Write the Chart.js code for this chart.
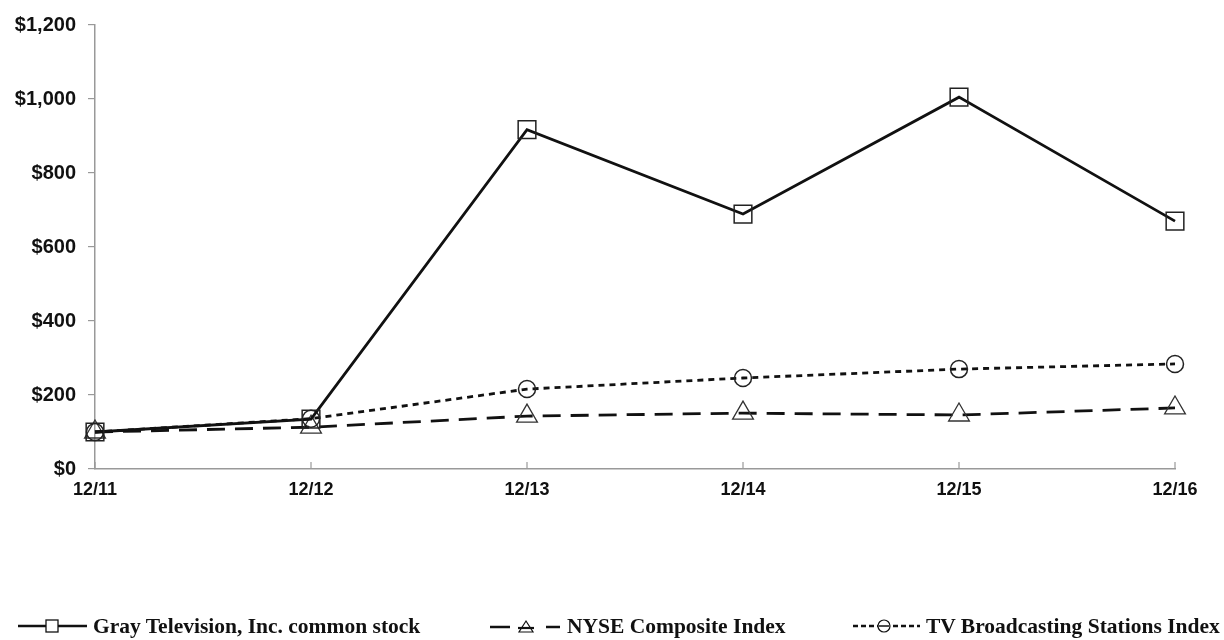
<!DOCTYPE html>
<html>
<head>
<meta charset="utf-8">
<script src="https://cdn.jsdelivr.net/npm/chart.js@4/dist/chart.umd.min.js"></script>
<style>
  body { margin: 0; background: #fff; }
  #wrap { position: relative; width: 1224px; height: 640px; overflow: hidden; }
  #legend { position: absolute; left: 0; top: 613px; width: 1224px; height: 26px;
            font-family: "Liberation Serif", "DejaVu Serif", serif; font-weight: bold; font-size: 21.5px; color: #111; }
  .item { position: absolute; top: 0; display: flex; align-items: center; height: 26px; white-space: nowrap; line-height: 26px; }
  .item svg { margin-right: 6px; }
</style>
</head>
<body>
<div id="wrap">
  <canvas id="chart" width="1224" height="640"></canvas>
  <div id="legend">
    <div class="item" style="left:18px">
      <svg width="69" height="16"><line x1="0" y1="8" x2="69" y2="8" stroke="#111" stroke-width="2.5"/><rect x="28" y="2" width="12" height="12" fill="#fff" stroke="#111" stroke-width="1.3"/></svg>
      <span>Gray Television, Inc. common stock</span>
    </div>
    <div class="item" style="left:490px">
      <svg width="71" height="16"><line x1="0" y1="9" x2="20" y2="9" stroke="#111" stroke-width="2.5"/><line x1="28" y1="10" x2="44" y2="10" stroke="#111" stroke-width="2.2"/><line x1="56" y1="9" x2="70" y2="9" stroke="#111" stroke-width="2.5"/><polygon points="36,3 43,14 29,14" fill="none" stroke="#111" stroke-width="1.2"/></svg>
      <span>NYSE Composite Index</span>
    </div>
    <div class="item" style="left:853px">
      <svg width="67" height="16"><line x1="0" y1="8" x2="67" y2="8" stroke="#111" stroke-width="2.5" stroke-dasharray="5,3"/><circle cx="31" cy="8" r="6" fill="#fff" stroke="#111" stroke-width="1.2"/><line x1="26" y1="8" x2="36" y2="8" stroke="#111" stroke-width="1.5"/></svg>
      <span>TV Broadcasting Stations Index</span>
    </div>
  </div>
</div>
<script>
const years = ['12/11', '12/12', '12/13', '12/14', '12/15', '12/16'];
const grayTv = [100, 135, 917, 689, 1005, 670];
const nyse = [100, 113, 143, 151, 146, 165];
const tvBroadcasting = [100, 136, 216, 246, 270, 284];
const yTicks = [0, 200, 400, 600, 800, 1000, 1200];

const yFont = { family: '"Liberation Sans", Arial, sans-serif', weight: 'bold', size: 20 };
const xFont = { family: '"Liberation Sans", Arial, sans-serif', weight: 'bold', size: 18 };

// small upward tick marks on the x axis
const xTickPlugin = {
  id: 'xTicksInside',
  afterDraw(chart) {
    const x = chart.scales.x, ctx = chart.ctx, bottom = chart.chartArea.bottom;
    ctx.save();
    ctx.strokeStyle = '#999';
    ctx.lineWidth = 1.2;
    x.ticks.forEach((t, i) => {
      const px = x.getPixelForTick(i);
      ctx.beginPath();
      ctx.moveTo(px, bottom);
      ctx.lineTo(px, bottom - 7);
      ctx.stroke();
    });
    ctx.restore();
  }
};

new Chart(document.getElementById('chart'), {
  type: 'line',
  data: {
    labels: years,
    datasets: [
      {
        label: 'Gray Television, Inc. common stock',
        data: grayTv,
        borderColor: '#111', borderWidth: 2.8,
        pointStyle: 'rect', pointRadius: 12.5, pointBorderWidth: 1.5,
        pointBackgroundColor: 'rgba(255,255,255,0)', pointBorderColor: '#222',
        order: 1
      },
      {
        label: 'NYSE Composite Index',
        data: nyse,
        borderColor: '#111', borderWidth: 2.8, borderDash: [18, 10],
        pointStyle: 'triangle', pointRadius: 12, pointBorderWidth: 1.3,
        pointBackgroundColor: 'rgba(255,255,255,0)', pointBorderColor: '#333',
        order: 3
      },
      {
        label: 'TV Broadcasting Stations Index',
        data: tvBroadcasting,
        borderColor: '#111', borderWidth: 2.8, borderDash: [6, 5],
        pointStyle: 'circle', pointRadius: 8.5, pointBorderWidth: 1.5,
        pointBackgroundColor: 'rgba(255,255,255,0)', pointBorderColor: '#222',
        order: 2
      }
    ]
  },
  options: {
    responsive: false,
    animation: false,
    events: [],
    layout: { padding: { left: 0, right: 49, top: 25, bottom: 0 } },
    elements: { line: { tension: 0 } },
    plugins: { legend: { display: false }, tooltip: { enabled: false } },
    scales: {
      x: {
        offset: false,
        grid: { display: false, drawTicks: false },
        border: { color: '#999', width: 1.5 },
        ticks: { color: '#111', font: xFont, padding: 10, maxRotation: 0 },
        afterFit(scale) { scale.height = 171; }
      },
      y: {
        min: 0, max: 1200,
        afterBuildTicks(scale) { scale.ticks = yTicks.map(v => ({ value: v })); },
        grid: { drawOnChartArea: false, color: '#999', tickLength: 7, lineWidth: 1.2 },
        border: { color: '#999', width: 1.5 },
        ticks: {
          color: '#111', font: yFont, padding: 12,
          callback: v => '$' + v.toLocaleString('en-US')
        },
        afterFit(scale) { scale.width = 95; }
      }
    }
  },
  plugins: [xTickPlugin]
});
</script>
</body>
</html>
